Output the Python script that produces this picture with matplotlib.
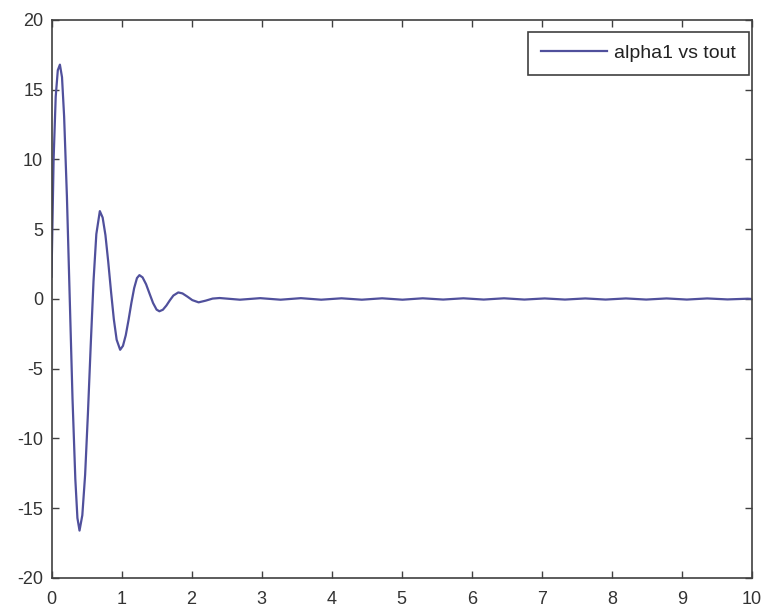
import matplotlib
matplotlib.use("Agg")
import matplotlib.pyplot as plt

plt.rcParams['axes.unicode_minus'] = False
plt.rcParams['font.family'] = ['Liberation Sans', 'DejaVu Sans']

# Transient part of alpha1 vs tout
tout = [0.00, 0.03, 0.06, 0.09, 0.12, 0.15, 0.18, 0.22, 0.26, 0.30, 0.34, 0.37, 0.40,
        0.44, 0.48, 0.52, 0.56, 0.60, 0.64, 0.69,
        0.73, 0.77, 0.81, 0.85, 0.89, 0.93, 0.98,
        1.02, 1.06, 1.10, 1.14, 1.18, 1.22, 1.255,
        1.30, 1.35, 1.40, 1.45, 1.50, 1.54,
        1.59, 1.64, 1.69, 1.74, 1.81,
        1.87, 1.94, 2.01, 2.10, 2.20, 2.30, 2.40,
        2.69, 2.98, 3.27, 3.56, 3.85, 4.14, 4.43, 4.72, 5.01, 5.30, 5.59, 5.88,
        6.17, 6.46, 6.75, 7.04, 7.33, 7.62, 7.91, 8.20, 8.49, 8.78, 9.07, 9.36,
        9.65, 9.94, 10.0]
alpha1 = [1.6, 10.0, 14.5, 16.4, 16.8, 15.9, 13.1, 7.35, 0.1, -7.15, -12.9, -15.7, -16.6,
          -15.5, -12.6, -8.2, -3.3, 1.3, 4.65, 6.3,
          5.84, 4.58, 2.66, 0.52, -1.46, -2.92, -3.64,
          -3.36, -2.60, -1.50, -0.29, 0.78, 1.50, 1.71,
          1.55, 1.06, 0.38, -0.29, -0.76, -0.88,
          -0.77, -0.47, -0.09, 0.25, 0.47,
          0.40, 0.17, -0.08, -0.24, -0.12, 0.03, 0.07,
          -0.05, 0.06, -0.05, 0.06, -0.05, 0.05, -0.05, 0.05, -0.05, 0.05, -0.04, 0.05,
          -0.04, 0.05, -0.04, 0.04, -0.04, 0.04, -0.04, 0.04, -0.04, 0.04, -0.04, 0.04,
          -0.03, 0.02, 0.0]

xticks = list(range(0, 11))
yticks = [-20, -15, -10, -5, 0, 5, 10, 15, 20]

fig = plt.figure(figsize=(7.65, 6.13), dpi=100)
ax = fig.add_axes([51.5 / 765, 1 - 578 / 613, (752 - 51.5) / 765, (578 - 20) / 613])

ax.plot(tout, alpha1, color='#50509c', linewidth=1.6, label='alpha1 vs tout')

ax.set_xlim(0, 10)
ax.set_ylim(-20, 20)
ax.set_xticks(xticks)
ax.set_yticks(yticks)
ax.tick_params(direction='in', length=5, width=1.0, color='#404040',
               top=True, right=True, labelsize=13, labelcolor='#333333')
ax.tick_params(axis='x', pad=9)
ax.tick_params(axis='y', pad=6)
for s in ax.spines.values():
    s.set_color('#404040')
    s.set_linewidth(1.2)

leg = ax.legend(loc='upper right', bbox_to_anchor=(749 / 765, 1 - 31.7 / 613),
                bbox_transform=fig.transFigure, borderaxespad=0,
                prop={'size': 14},
                handlelength=3.4, handletextpad=0.4, borderpad=0.65,
                fancybox=False, framealpha=1, edgecolor='#404040')
leg.get_frame().set_linewidth(1.2)
for t in leg.get_texts():
    t.set_color('#222222')

fig.savefig('out.png', dpi=100)
